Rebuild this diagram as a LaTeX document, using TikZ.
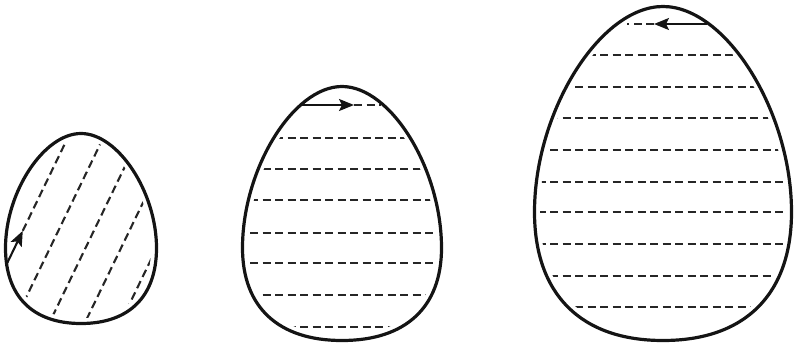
\documentclass[tikz,border=0pt]{standalone}
\usetikzlibrary{arrows.meta}
% egg outline: #1 cx, #2 y of widest, #3 half width, #4 top height, #5 bottom height
\newcommand\eggshape[5]{(#1+#3,#2) .. controls (#1+#3,#2-0.49*#4) and (#1+0.49*#3,#2-#4) .. (#1,#2-#4)
 .. controls (#1-0.49*#3,#2-#4) and (#1-#3,#2-0.49*#4) .. (#1-#3,#2)
 .. controls (#1-#3,#2+0.64*#5) and (#1-0.64*#3,#2+#5) .. (#1,#2+#5)
 .. controls (#1+0.64*#3,#2+#5) and (#1+#3,#2+0.64*#5) .. cycle}
\tikzset{
  eggline/.style={line width=3.2pt, black!92},
  dashline/.style={line width=2.1pt, black!85, dash pattern=on 8pt off 4.5pt},
  arrowline/.style={line width=2.1pt, black!92, -{Stealth[length=15pt,width=12pt,inset=3pt]}}
}
\begin{document}
\begin{tikzpicture}[x=1pt,y=-1pt]
\useasboundingbox (0,0) rectangle (795,348);
% ---------- egg 1 (diagonal lines) ----------
\begin{scope}
  \clip \eggshape{81}{248}{70}{109}{70};
  \foreach \c in {153,185,217,249}
    \draw[dashline] ({\c*0.9-300*0.435},{\c*0.435+300*0.9}) -- ({\c*0.9+300*0.435},{\c*0.435-300*0.9});
  \draw[dashline] ({121*0.9-198*0.435},{121*0.435+198*0.9}) -- ({121*0.9+300*0.435},{121*0.435-300*0.9});
\end{scope}
\coordinate (a1s) at ({121*0.9-234*0.435},{121*0.435+234*0.9});
\coordinate (a1t) at ({121*0.9-198*0.435},{121*0.435+198*0.9});
\draw[arrowline] (a1s) -- (a1t);
\draw[eggline] \eggshape{81}{248}{75.5}{114.5}{75.5};
% ---------- egg 2 ----------
\begin{scope}
  \clip \eggshape{342}{248}{94}{156}{87};
  \foreach \y in {138,169,200,233,263,295,327}
    \draw[dashline] (200,\y) -- (500,\y);
\end{scope}
\coordinate (a2s) at (302,105);
\coordinate (a2t) at (354,105);
\coordinate (a2e) at (381,105);
\draw[arrowline] (a2s) -- (a2t);
\draw[dashline] (a2t) -- (a2e);
\draw[eggline] \eggshape{342}{248}{99.5}{161.5}{92.5};
% ---------- egg 3 ----------
\begin{scope}
  \clip \eggshape{663}{212}{123}{200}{123};
  \foreach \y in {55,87,118,150,182,212,244,276,307}
    \draw[dashline] (500,\y) -- (800,\y);
\end{scope}
\coordinate (a3s) at (707,24);
\coordinate (a3t) at (654,24);
\coordinate (a3e) at (627,24);
\draw[arrowline] (a3s) -- (a3t);
\draw[dashline] (a3t) -- (a3e);
\draw[eggline] \eggshape{663}{212}{128.5}{205.5}{128.5};
\end{tikzpicture}
\end{document}
